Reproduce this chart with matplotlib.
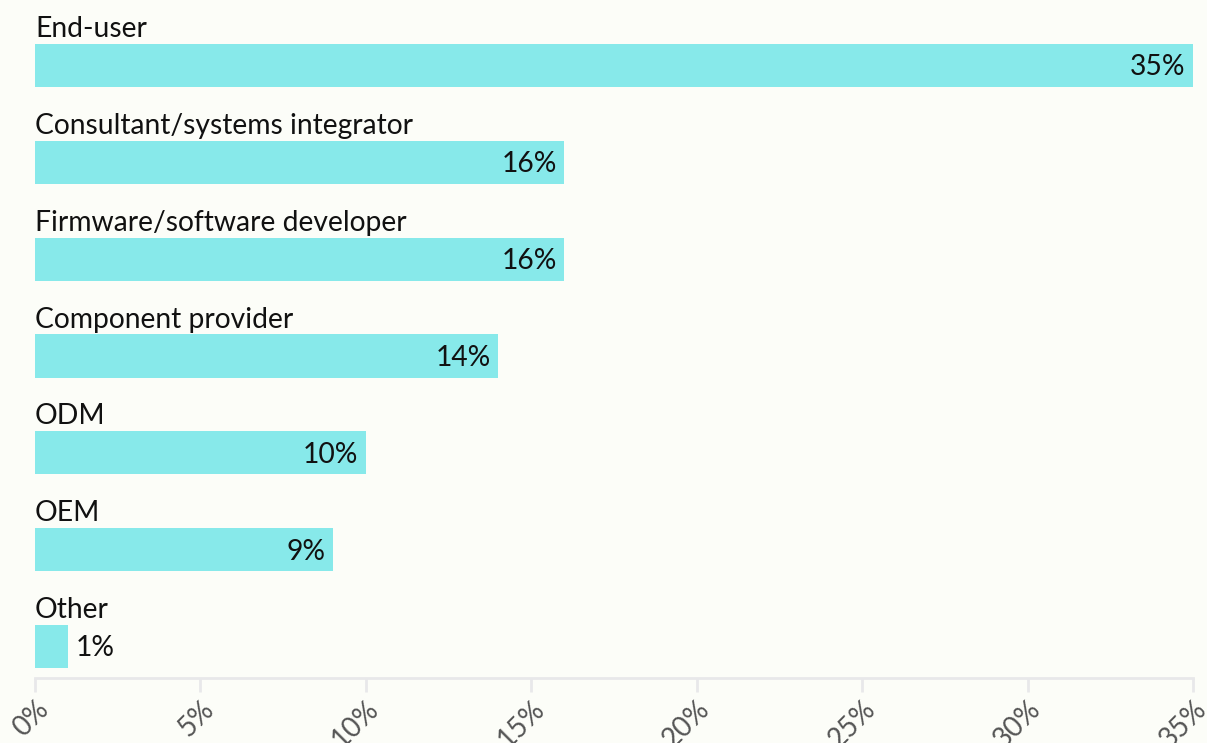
import matplotlib
matplotlib.use("Agg")
import matplotlib.pyplot as plt
import numpy as np

categories = ["End-user", "Consultant/systems integrator", "Firmware/software developer",
              "Component provider", "ODM", "OEM", "Other"]
shares = [35, 16, 16, 14, 10, 9, 1]
ticks = [0, 5, 10, 15, 20, 25, 30, 35]

BG = "#fcfdf8"
BAR = "#87e9ea"

plt.rcParams["font.family"] = ["Lato", "DejaVu Sans"]

fig = plt.figure(figsize=(12.07, 7.43), dpi=100, facecolor=BG)
ax = fig.add_axes([35 / 1207, 65 / 743, 1158 / 1207, 678 / 743])
ax.set_facecolor(BG)

y = np.arange(len(categories))
ax.barh(y, shares, height=0.445, color=BAR, edgecolor="none")

# category name above each bar, value at the bar's end (outside if the bar is too short)
for yi, name, v in zip(y, categories, shares):
    ax.text(0, yi - 0.375, name, ha="left", va="center", fontsize=20.3, color="#111111")
    if v >= 3:
        ax.text(v - 0.22, yi + 0.02, f"{v}%", ha="right", va="center", fontsize=20.3, color="#111111")
    else:
        ax.text(v + 0.22, yi + 0.02, f"{v}%", ha="left", va="center", fontsize=20.3, color="#111111")

ax.set_xlim(0, 35)
ax.set_ylim(6.325, -0.675)
ax.set_yticks([])
ax.set_xticks(ticks)
ax.set_xticklabels([f"{t}%" for t in ticks], rotation=45, ha="right", rotation_mode="anchor",
                   fontsize=20, color="#555555")
ax.tick_params(axis="x", length=10, width=2, color="#e8e8ea", pad=3)
for s in ["top", "right", "left"]:
    ax.spines[s].set_visible(False)
ax.spines["bottom"].set_color("#e8e8ea")
ax.spines["bottom"].set_linewidth(2)

fig.savefig("out.png", dpi=100, facecolor=BG)
